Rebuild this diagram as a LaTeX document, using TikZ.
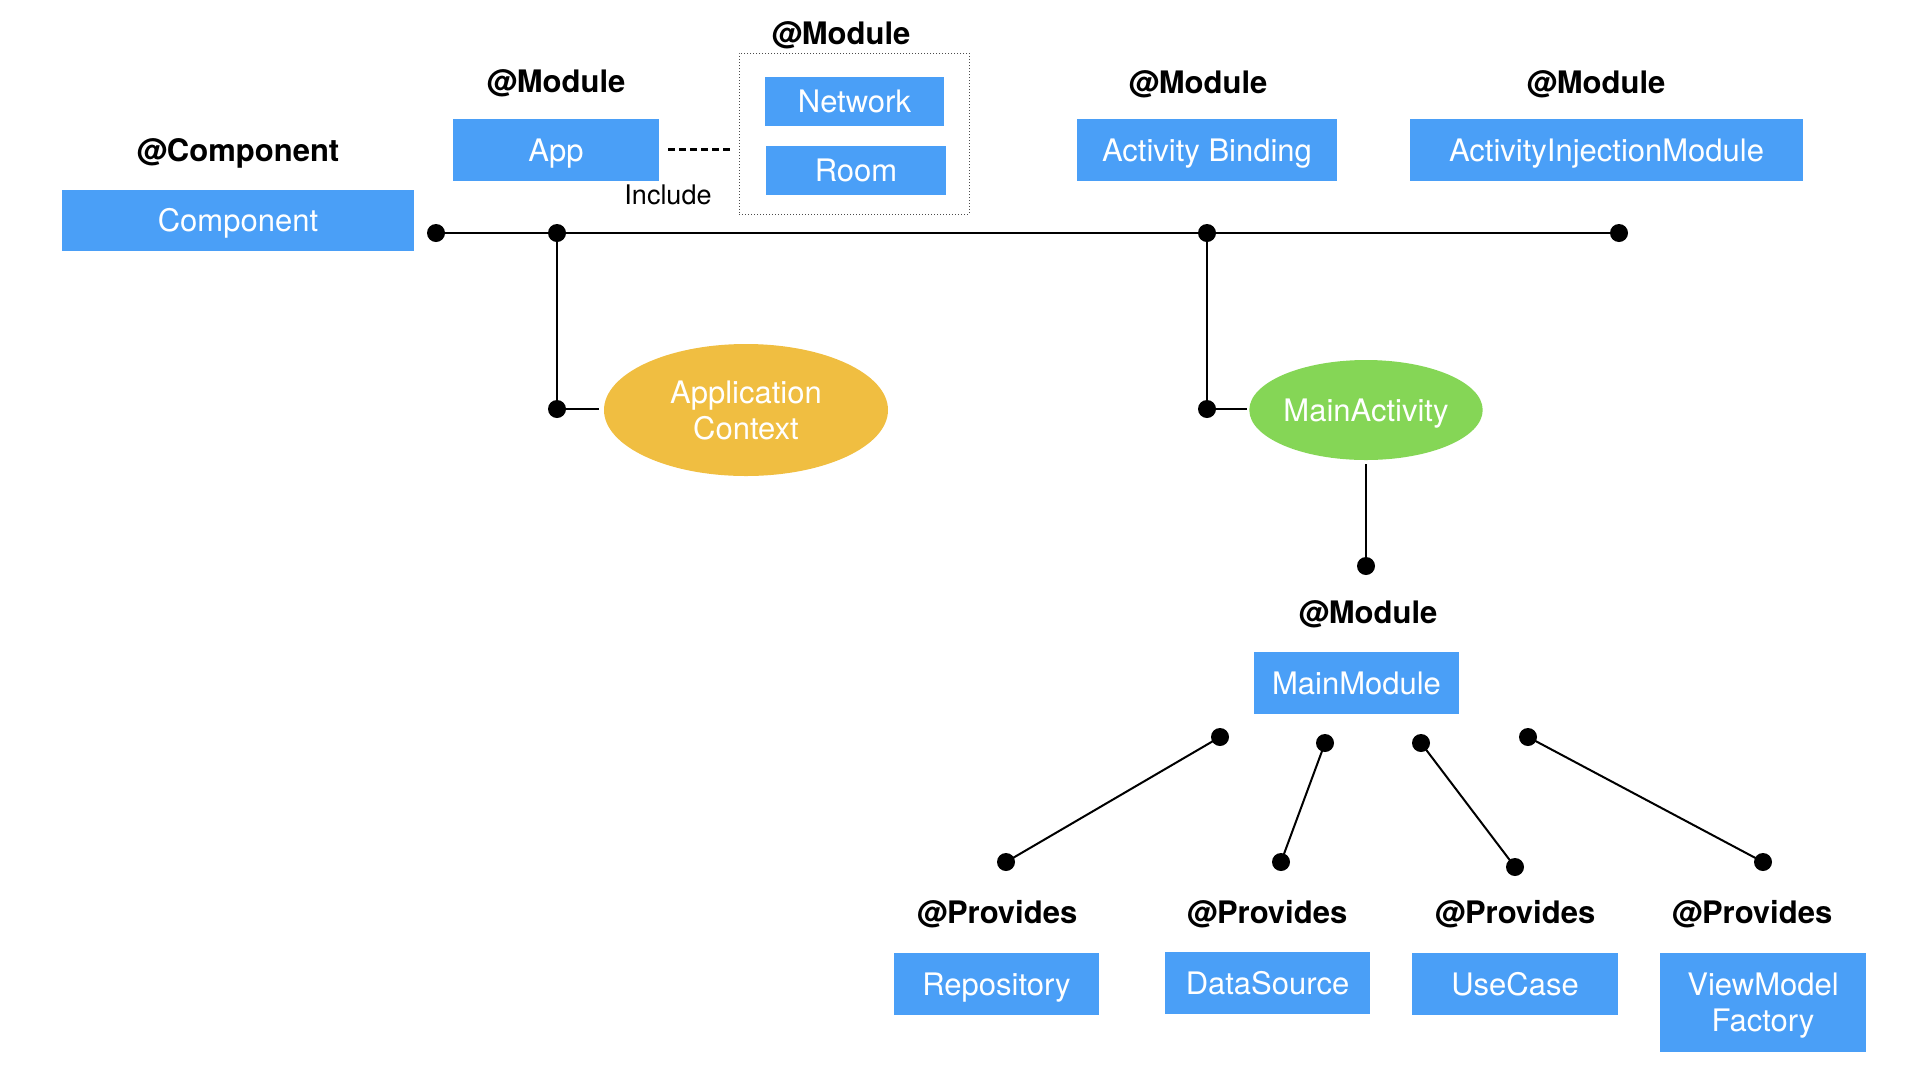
\documentclass[tikz,border=0pt]{standalone}
\usepackage{fontspec}
\setmainfont{TeX Gyre Heros}
\usetikzlibrary{shapes.geometric}
\definecolor{boxblue}{RGB}{74,159,247}
\definecolor{ctxorange}{RGB}{240,190,65}
\definecolor{actgreen}{RGB}{133,214,86}
\tikzset{
  bluebox/.style={fill=boxblue, text=white, inner sep=0pt, align=center,
    font=\fontsize{31}{36}\selectfont, text height=22.3pt, text depth=0pt},
  boxbare/.style={fill=boxblue, inner sep=0pt},
  boxtext/.style={text=white, inner sep=0pt, align=center,
    font=\fontsize{31}{36}\selectfont},
  tag/.style={font=\fontsize{31}{36}\selectfont\bfseries, inner sep=0pt},
  dotnode/.style={circle, fill=black, inner sep=0pt, minimum size=18pt},
  oval/.style={ellipse, inner sep=0pt, text=white, align=center,
    font=\fontsize{31}{36}\selectfont},
  wire/.style={line width=2pt, black},
  busline/.style={line width=2.7pt, black},
}
\begin{document}
\begin{tikzpicture}[x=1pt,y=-1pt]
\useasboundingbox (0,0) rectangle (1920,1080);

% module group box
\node[draw=black!70, dotted, line width=1pt, minimum width=230pt, minimum height=161pt, inner sep=0pt] (grp) at (854,133.5) {};

% boxes
\node[bluebox, minimum width=352pt, minimum height=61pt] (comp) at (238,220.5) {Component};
\node[bluebox, minimum width=206pt, minimum height=62pt] (app) at (556,150) {App};
\node[bluebox, minimum width=179pt, minimum height=49pt] (net) at (854.5,101.5) {Network};
\node[bluebox, minimum width=180pt, minimum height=49pt] (room) at (856,170.5) {Room};
\node[bluebox, minimum width=260pt, minimum height=62pt] (ab) at (1207,150) {Activity Binding};
\node[bluebox, minimum width=393pt, minimum height=62pt] (aim) at (1606.5,150) {ActivityInjectionModule};
\node[bluebox, minimum width=205pt, minimum height=62pt] (mm) at (1356.5,683) {MainModule};
\node[bluebox, minimum width=205pt, minimum height=62pt] (repo) at (996.5,984) {Repository};
\node[bluebox, minimum width=205pt, minimum height=62pt] (ds) at (1267.5,983) {DataSource};
\node[bluebox, minimum width=206pt, minimum height=62pt] (uc) at (1515,984) {UseCase};
\node[boxbare, minimum width=206pt, minimum height=99pt] (vmf) at (1763,1002.5) {};
\node[boxtext] (vmft) at (1763,1006) {ViewModel\\Factory};

% labels
\node[tag] (tcomp) at (238,153.5) {@Component};
\node[tag] (tapp) at (556,83.5) {@Module};
\node[tag] (tgrp) at (841,35.5) {@Module};
\node[tag] (tab) at (1198,84) {@Module};
\node[tag] (taim) at (1596,84) {@Module};
\node[tag] (tmm) at (1368,614) {@Module};
\node[tag] (tp1) at (997,914) {@Provides};
\node[tag] (tp2) at (1267,914) {@Provides};
\node[tag] (tp3) at (1515,914) {@Provides};
\node[tag] (tp4) at (1752,914) {@Provides};
\node[font=\fontsize{27}{32}\selectfont, inner sep=0pt] (incl) at (668,195) {Include};

% ellipses
\node[oval, fill=ctxorange, minimum width=284pt, minimum height=132pt] (ctx) at (746,410) {Application\\Context};
\node[oval, fill=actgreen, minimum width=230pt, minimum height=100pt, text height=22.3pt, text depth=0pt] (ma) at (1366,410) {MainActivity};

% dots
\node[dotnode] (b1) at (436,233) {};
\node[dotnode] (b2) at (557,233) {};
\node[dotnode] (b3) at (1207,233) {};
\node[dotnode] (b4) at (1619,233) {};
\node[dotnode] (c1) at (557,409) {};
\node[dotnode] (c2) at (1207,409) {};
\node[dotnode] (m0) at (1366,566) {};
\node[dotnode] (u1) at (1220,737) {};
\node[dotnode] (u2) at (1325,743) {};
\node[dotnode] (u3) at (1421,743) {};
\node[dotnode] (u4) at (1528,737) {};
\node[dotnode] (l1) at (1006,862) {};
\node[dotnode] (l2) at (1281,862) {};
\node[dotnode] (l3) at (1515,867) {};
\node[dotnode] (l4) at (1763,862) {};

% include link
\coordinate (inclA) at (668,149);
\coordinate (inclB) at (730,149);
\draw[line width=3pt, dash pattern=on 6.5pt off 4.5pt] (inclA) -- (inclB);

% connectors
\draw[busline] (b1.center) -- (b4.center);
\draw[wire] (b2.center) -- (c1.center);
\draw[wire] (b3.center) -- (c2.center);
\draw[wire, line width=2.4pt, shorten >=5pt] (c1.center) -- (c1.center -| ctx.west);
\draw[wire, line width=2.4pt, shorten >=2pt] (c2.center) -- (c2.center -| ma.west);
\draw[wire, shorten <=4pt] (ma.south) -- (m0.center);
\draw[wire] (u1.center) -- (l1.center);
\draw[wire] (u2.center) -- (l2.center);
\draw[wire] (u3.center) -- (l3.center);
\draw[wire] (u4.center) -- (l4.center);
\end{tikzpicture}
\end{document}
